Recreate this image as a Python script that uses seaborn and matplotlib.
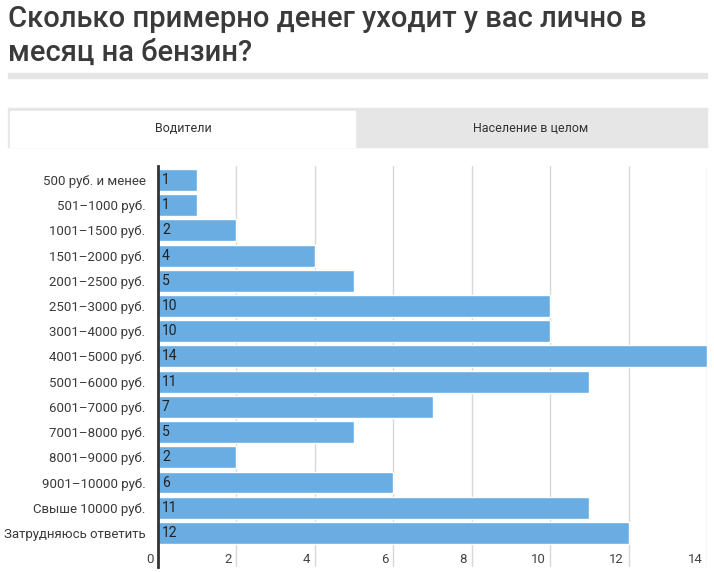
import matplotlib.pyplot as plt
import seaborn as sns
import pandas as pd
from matplotlib.patches import Rectangle

# Data
categories = ['500 руб. и менее', '501–1000 руб.', '1001–1500 руб.', '1501–2000 руб.',
              '2001–2500 руб.', '2501–3000 руб.', '3001–4000 руб.', '4001–5000 руб.',
              '5001–6000 руб.', '6001–7000 руб.', '7001–8000 руб.', '8001–9000 руб.',
              '9001–10000 руб.', 'Свыше 10000 руб.', 'Затрудняюсь ответить']
values = [1, 1, 2, 4, 5, 10, 10, 14, 11, 7, 5, 2, 6, 11, 12]
x_ticks = [0, 2, 4, 6, 8, 10, 12, 14]
title = 'Сколько примерно денег уходит у вас лично в\nмесяц на бензин?'
tabs = ['Водители', 'Население в целом']

df = pd.DataFrame({'category': categories, 'value': values})

sns.set_style('white')
plt.rcParams['font.family'] = ['Roboto', 'DejaVu Sans']

W, H = 714, 572
fig = plt.figure(figsize=(W / 100, H / 100), dpi=100)

def fx(px):
    return px / W

def fy(px):
    return 1 - px / H

# title
fig.text(fx(8), fy(5), title, ha='left', va='top', fontsize=21, color='#3a3a3a',
         fontweight='medium', linespacing=1.25)
# divider
fig.patches.append(Rectangle((fx(8), fy(78)), fx(699), 5 / H, transform=fig.transFigure,
                             color='#e6e6e6', zorder=0))
# tabs
fig.patches.append(Rectangle((fx(8), fy(147)), fx(699), 39 / H, transform=fig.transFigure,
                             color='#e6e6e6', zorder=0))
fig.patches.append(Rectangle((fx(10), fy(147)), fx(345), 36 / H, transform=fig.transFigure,
                             color='white', zorder=1))
fig.text(fx(183), fy(128), tabs[0], ha='center', va='center', fontsize=9, color='#333333')
fig.text(fx(531), fy(128), tabs[1], ha='center', va='center', fontsize=9, color='#333333')

ax = fig.add_axes([fx(158), 1 - 567 / H, fx(707 - 158), (567 - 166) / H])
sns.barplot(data=df, x='value', y='category', orient='h', color='#69ade3',
            saturation=1, width=0.87, ax=ax, zorder=2)

ax.set_xlim(0, 14)
ax.set_ylim(15.35, -0.55)
ax.set_xlabel('')
ax.set_ylabel('')
ax.set_xticks([])
for t in x_ticks[1:]:
    ax.axvline(t, color='#d8d8d8', lw=1, zorder=1)
# x tick labels sit just left of each gridline
for t in x_ticks:
    ax.text(t - 0.12, 15.05, str(t), ha='right', va='center', fontsize=9.5, color='#444444',
            clip_on=False)

for i, v in enumerate(values):
    ax.text(0.1, i, str(v), ha='left', va='center', fontsize=10, color='#222222', zorder=3)

ax.tick_params(axis='y', length=0, pad=9, labelsize=9.5, labelcolor='#3a3a3a')
for s in ['top', 'right', 'bottom']:
    ax.spines[s].set_visible(False)
ax.spines['left'].set_color('#333333')
ax.spines['left'].set_linewidth(2)
ax.spines['left'].set_zorder(4)

fig.savefig('out.png', dpi=100)
